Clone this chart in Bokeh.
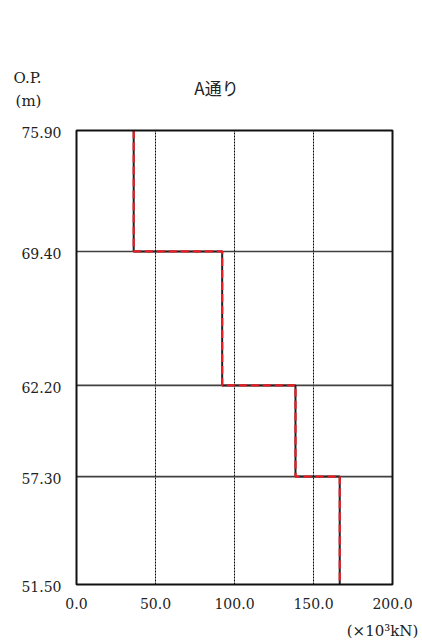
import numpy as np
from bokeh.plotting import figure
from bokeh.models import Label, Range1d
from bokeh.core.properties import value
from bokeh.embed import file_html
from bokeh.resources import INLINE

levels = [75.90, 69.40, 62.20, 57.30, 51.50]
level_labels = ["75.90", "69.40", "62.20", "57.30", "51.50"]
values = [36.2, 92.2, 138.6, 166.6]
x_ticks = [0, 50, 100, 150, 200]
x_tick_labels = ["0.0", "50.0", "100.0", "150.0", "200.0"]
grid_x = [50, 100, 150]

SERIF = "DejaVu Serif"
CJK = "Noto Sans CJK JP"

W, H = 422, 644
# frame placement of the plotting box (pixels)
BOX_L, BOX_R, BOX_T, BOX_B = 76, 392, 130, 584
xmin, xmax = x_ticks[0], x_ticks[-1]
ymin, ymax = min(levels), max(levels)
sx = (BOX_R - BOX_L) / (xmax - xmin)
sy = (BOX_B - BOX_T) / (ymax - ymin)

p = figure(width=W, height=H, output_backend="svg", toolbar_location=None,
           x_range=Range1d(xmin - BOX_L / sx, xmax + (W - BOX_R) / sx),
           y_range=Range1d(ymin - (H - BOX_B) / sy, ymax + BOX_T / sy),
           min_border=0, min_border_left=0, min_border_right=0,
           min_border_top=0, min_border_bottom=0)
p.outline_line_color = None
p.axis.visible = False
p.grid.visible = False

# dotted vertical grid
p.segment(x0=grid_x, x1=grid_x, y0=[ymin] * len(grid_x), y1=[ymax] * len(grid_x),
          line_color="#000000", line_width=1, line_dash="2 1")
# level lines
inner = levels[1:-1]
p.segment(x0=[xmin] * len(inner), x1=[xmax] * len(inner), y0=inner, y1=inner,
          line_color="#404040", line_width=1.6)

# step path
xs, ys = [], []
for i, v in enumerate(values):
    xs += [v, v]
    ys += [levels[i], levels[i + 1]]
xs = np.array(xs)
ys = np.array(ys)
p.line(xs, ys, line_color="#222222", line_width=2)
p.line(xs, ys, line_color="#ec1c24", line_width=2.2, line_dash="8 4")

# box
p.quad(left=[xmin], right=[xmax], bottom=[ymin], top=[ymax], fill_color=None,
       line_color="#111111", line_width=2)

# tick labels
p.text(x=[xmin] * len(levels), y=levels, text=level_labels, x_offset=-15, y_offset=2,
       text_align="right", text_baseline="middle", text_font=value(SERIF),
       text_font_size="14px", text_color="#222222")
p.text(x=x_ticks, y=[ymin] * len(x_ticks), text=x_tick_labels, y_offset=19,
       text_align="center", text_baseline="middle", text_font=value(SERIF),
       text_font_size="14px", text_color="#222222")

def lab(x, y, text, font, size):
    p.add_layout(Label(x=x, y=y, text=text, text_font=font, text_font_size=size,
                       x_units="canvas", y_units="canvas",
                       text_align="center", text_baseline="middle", text_color="#222222"))

lab(27, 77, "O.P.", SERIF, "15px")
lab(28, 100, "(m)", SERIF, "15px")
lab(216, 87, "A通り", CJK, "17px")
lab(382, 630, "(×10³kN)", SERIF, "15px")

open("out.html", "w").write(file_html(p, INLINE))
